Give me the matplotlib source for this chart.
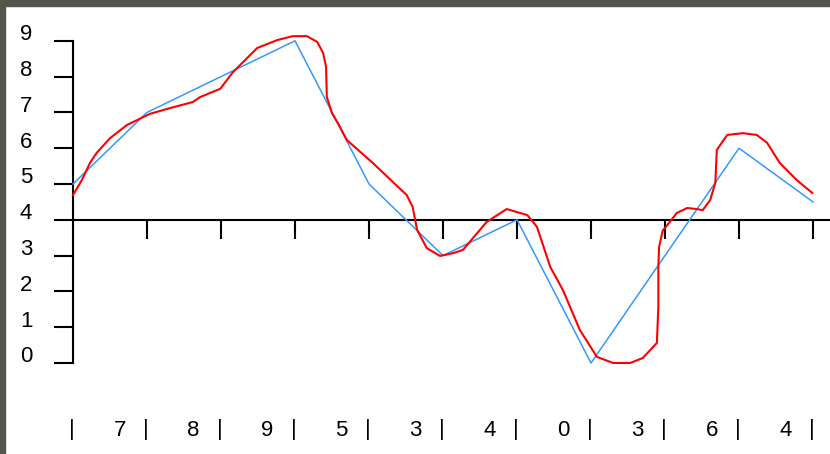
import numpy as np
import matplotlib
matplotlib.use('Agg')
import matplotlib.pyplot as plt
from matplotlib.patches import Rectangle
from matplotlib import font_manager

# blue polyline values at positions 0..10
blue_vals = [5, 7, 8, 9, 5, 3, 4, 0, 3, 6, 4.5]
bottom_labels = [str(int(v)) for v in blue_vals[1:]]

# red free-hand curve (x in tick units, y value)
red_x = [0.00, 0.12, 0.23, 0.32, 0.50, 0.73, 0.95, 1.04, 1.31, 1.62, 1.72, 1.99,
         2.16, 2.49, 2.76, 2.97, 3.16, 3.30, 3.38, 3.42, 3.43, 3.50, 3.58, 3.70,
         4.05, 4.51, 4.59, 4.65, 4.78, 4.96, 5.14, 5.27, 5.59, 5.86, 6.14, 6.27,
         6.45, 6.62, 6.85, 7.08, 7.30, 7.53, 7.70, 7.89, 7.91, 7.91, 7.92, 7.97,
         8.03, 8.16, 8.30, 8.43, 8.51, 8.61, 8.68, 8.70, 8.84, 9.05, 9.24, 9.38,
         9.55, 9.78, 9.99]
red_y = [4.69, 5.11, 5.59, 5.87, 6.28, 6.65, 6.87, 6.96, 7.12, 7.29, 7.43, 7.66,
         8.12, 8.80, 9.02, 9.13, 9.13, 8.97, 8.66, 8.27, 7.43, 6.98, 6.70, 6.23,
         5.59, 4.69, 4.36, 3.72, 3.21, 2.99, 3.07, 3.16, 3.94, 4.30, 4.13, 3.80,
         2.68, 2.04, 0.92, 0.17, 0.00, 0.00, 0.14, 0.56, 1.56, 2.68, 3.24, 3.70,
         3.85, 4.19, 4.33, 4.30, 4.27, 4.55, 5.03, 5.95, 6.37, 6.42, 6.37, 6.15,
         5.59, 5.11, 4.75]

yticks = list(range(10))

installed = {f.name for f in font_manager.fontManager.ttflist}
fams = [f for f in ['Liberation Sans Narrow', 'Liberation Sans'] if f in installed]
plt.rcParams['font.family'] = fams + ['DejaVu Sans']

W, H = 830, 454
fig = plt.figure(figsize=(W / 100, H / 100), dpi=100)
fig.patch.set_facecolor('white')
ax = fig.add_axes([0, 0, 1, 1])

# pixel mapping: x_px = 73 + 74*u ; y_px = 363 - 35.8*v
ax.set_xlim((0 - 73) / 74, (W - 73) / 74)
ax.set_ylim((363 - H) / 35.8, 363 / 35.8)

ax.plot(range(len(blue_vals)), blue_vals, color='#3399ff', lw=1.1, zorder=3)
ax.plot(red_x, red_y, color='#ff0000', lw=1.5, zorder=4,
        solid_joinstyle='round')

for s in ['top', 'right']:
    ax.spines[s].set_visible(False)
ax.spines['left'].set_position(('data', 0))
ax.spines['left'].set_bounds(0, 9)
ax.spines['bottom'].set_position(('data', 4))
ax.spines['bottom'].set_bounds(0, ax.get_xlim()[1])
for s in ['left', 'bottom']:
    ax.spines[s].set_linewidth(1.5)
    ax.spines[s].set_color('black')

ax.set_yticks(yticks)
ax.set_xticks(range(1, 11))
ax.tick_params(axis='both', direction='out', length=13.5, width=1.5, color='black',
               labelleft=False, labelbottom=False)

for v in yticks:
    ax.text(-0.635, v + 0.17, str(v), ha='center', va='center', fontsize=16)

row_y = (363 - 430) / 35.8
for i in range(len(blue_vals)):
    ax.text(i - 0.02, row_y, '|', ha='center', va='center', fontsize=16)
for i, lab in enumerate(bottom_labels, start=1):
    ax.text(i - 0.37, row_y, lab, ha='center', va='center', fontsize=16)

# dark frame strips at top and left
fig.patches.append(Rectangle((0, 1 - 6 / H), 1, 6 / H, transform=fig.transFigure,
                             color='#55554b', zorder=10))
fig.patches.append(Rectangle((0, 0), 5 / W, 1, transform=fig.transFigure,
                             color='#55554b', zorder=10))

fig.savefig('out.png', dpi=100, facecolor='white')
